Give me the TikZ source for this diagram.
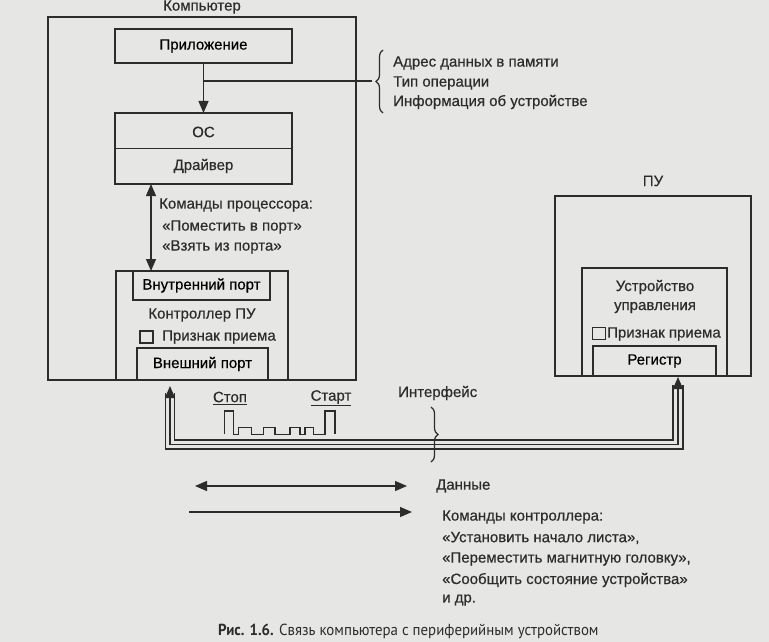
\documentclass[tikz,border=0pt]{standalone}
\usepackage{fontspec}
\setmainfont{Liberation Sans}
\newfontfamily\dia[FakeBold=0.5]{Liberation Sans}
\newfontfamily\capfont[FakeStretch=0.93]{PT Sans}
\usetikzlibrary{arrows.meta,decorations.pathreplacing,calc}
\definecolor{paper}{HTML}{E6E6E4}
\definecolor{ink}{HTML}{2C2C2C}
\tikzset{
  box/.style={draw=ink, line width=1.2pt, inner sep=0pt, outer sep=0pt},
  lbl/.style={inner sep=0pt, text=ink},
  lft/.style={inner sep=0pt, text=ink, anchor=west},
  arr/.style={draw=ink, line width=1.2pt, -{Triangle[length=12pt,width=10pt]}},
  arrboth/.style={draw=ink, line width=1.2pt, {Triangle[length=12pt,width=10pt]}-{Triangle[length=12pt,width=10pt]}},
  wire/.style={draw=ink, line width=1.2pt},
  bracestyle/.style={draw=ink, line width=1.2pt, decorate, decoration={brace, amplitude=7pt}}
}
\begin{document}
\begin{tikzpicture}[x=1pt, y=-1pt, font=\dia\fontsize{15}{17}\selectfont]
\fill[paper] (0,0) rectangle (769,642);
\useasboundingbox (0,0) rectangle (769,642);

% Computer
\node[box, minimum width=308pt, minimum height=363pt] (comp) at (202,198.5) {};
\node[lbl] (complbl) at (202,7) {Компьютер};
\node[box, minimum width=177pt, minimum height=34pt] (app) at (203.5,46) {Приложение};
\node[box, minimum width=177pt, minimum height=71pt] (os) at (203.5,148.5) {};
\draw[wire] (os.west) -- (os.east);
\node[lbl] (oslbl) at (203.5,132) {ОС};
\node[lbl] (drv) at (203.5,166) {Драйвер};

\draw[arr] (app.south) -- (os.north);
\coordinate (tap) at (203.5,81);
\coordinate (btip) at (372,81);
\draw[wire] (tap) -- (btip);
\draw[bracestyle] (383,113) -- (383,50);
\node[lft] (t1) at (393,63) {Адрес данных в памяти};
\node[lft] (t2) at (393,83) {Тип операции};
\node[lft] (t3) at (393,102) {Информация об устройстве};

% Controller
\node[box, minimum width=172pt, minimum height=109pt] (ctrl) at (202,325.5) {};
\node[box, minimum width=137pt, minimum height=29pt] (inport) at (201.5,285.5) {Внутренний порт};
\node[lbl] (ctrllbl) at (202,315) {Контроллер ПУ};
\node[box, minimum width=13pt, minimum height=12pt] (chk1) at (146.5,337) {};
\node[lft] (flag1) at (162,337) {Признак приема};
\node[box, minimum width=131pt, minimum height=32pt] (outport) at (202.5,364) {Внешний порт};

\coordinate (cmdx) at (151,0);
\draw[arrboth] (cmdx |- os.south) -- (cmdx |- inport.north);
\node[lft] (c1) at (159,205) {Команды процессора:};
\node[lft] (c2) at (162,227) {«Поместить в порт»};
\node[lft] (c3) at (162,247) {«Взять из порта»};

% Peripheral device
\node[lbl] (pulbl) at (653,181) {ПУ};
\node[box, minimum width=196pt, minimum height=180pt] (pu) at (653,286) {};
\node[box, minimum width=145pt, minimum height=108pt] (cu) at (654.5,322) {};
\node[lbl, align=center, font=\dia\fontsize{15}{19}\selectfont] (culbl) at (655,296.5) {Устройство\\управления};
\node[box, minimum width=13pt, minimum height=12pt] (chk2) at (599,333.5) {};
\node[lft] (flag2) at (607,334) {Признак приема};
\node[box, minimum width=123pt, minimum height=30pt] (reg) at (654.5,361) {Регистр};

% Interface cable
\coordinate (La) at (165.5,393);
\coordinate (Lb) at (170,386);
\coordinate (Lc) at (174.5,393);
\coordinate (Ra) at (673,385);
\coordinate (Rb) at (678,377);
\coordinate (Rc) at (683,385);
\draw[wire] (Lc) |- (673,440) -- (Ra);
\draw[arrboth] (Lb) |- (678,444.5) -- (Rb);
\draw[wire] (La) |- (683,449) -- (Rc);

% signal
\draw[wire] (224.7,434.3) -- (224.7,411) -- (233.3,411) -- (233.3,434.3) -- (238.3,434.3) -- (238.3,427.3) -- (251.7,427.3) -- (251.7,434.3) -- (263.3,434.3) -- (263.3,427.3) -- (275,427.3) -- (275,434.3) -- (290,434.3) -- (290,427.3) -- (300,427.3) -- (300,434.3) -- (305,434.3) -- (305,427.3) -- (313.3,427.3) -- (313.3,434.3) -- (325,434.3) -- (325,411) -- (335,411) -- (335,434.3);
\node[lbl] (stop) at (230,398) {\underline{Стоп}};
\node[lbl] (start) at (331,398) {\underline{Старт}};
\node[lft] (iface) at (398,393) {Интерфейс};
\draw[bracestyle] (431,407) -- (431,462);

% Legend
\coordinate (d1) at (195,486);
\coordinate (d2) at (407,486);
\draw[arrboth] (d1) -- (d2);
\node[lft] (dat) at (436,486) {Данные};
\coordinate (k1) at (189,512);
\coordinate (k2) at (412,512);
\draw[arr] (k1) -- (k2);
\node[lft] (k0) at (442,517) {Команды контроллера:};
\node[lft] (kl1) at (442,538) {«Установить начало листа»,};
\node[lft] (kl2) at (442,559) {«Переместить магнитную головку»,};
\node[lft] (kl3) at (442,580) {«Сообщить состояние устройства»};
\node[lft] (kl4) at (442,600) {и др.};

\node[lft, font=\capfont\fontsize{16}{18}\selectfont] (cap) at (218,631) {\textbf{Рис. 1.6.} Связь компьютера с периферийным устройством};
\end{tikzpicture}
\end{document}
